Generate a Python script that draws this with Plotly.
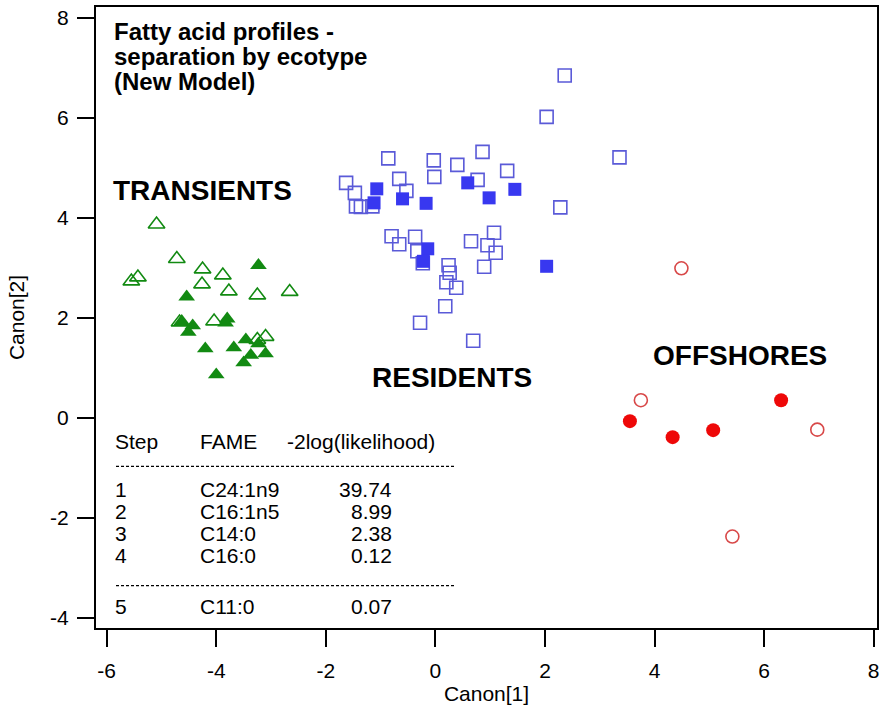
import plotly.graph_objects as go

# Canonical scores (Canon[1], Canon[2]) per ecotype
trans_open_x = [-5.09, -4.72, -5.55, -5.43, -4.25, -4.26, -3.88, -3.77, -3.25, -2.66, -4.67, -4.04, -3.25, -3.10]
trans_open_y = [3.87, 3.18, 2.73, 2.81, 2.97, 2.67, 2.85, 2.53, 2.45, 2.52, 1.91, 1.93, 1.56, 1.62]
trans_fill_x = [-3.23, -4.54, -4.63, -4.43, -4.51, -3.80, -3.83, -3.46, -4.20, -3.68, -3.23, -3.37, -3.10, -3.50, -4.00]
trans_fill_y = [3.05, 2.42, 1.93, 1.84, 1.71, 1.98, 1.90, 1.56, 1.38, 1.40, 1.48, 1.25, 1.28, 1.10, 0.86]

res_open_x = [2.36, 2.03, 0.86, -0.86, -0.03, 0.40, 1.31, -0.02, -0.66, -1.63, 0.77, -0.53, -1.47, -1.45,
              -1.36, -1.15, 2.28, -0.80, -0.66, -0.37, -0.33, 0.65, 1.07, 0.95, 1.10, 0.89, -0.23, 0.24,
              0.26, 0.20, 0.38, 0.18, -0.28, 0.69, 3.36]
res_open_y = [6.85, 6.02, 5.32, 5.19, 5.15, 5.06, 4.94, 4.82, 4.78, 4.70, 4.76, 4.54, 4.50, 4.23,
              4.22, 4.23, 4.21, 3.63, 3.47, 3.62, 3.33, 3.53, 3.70, 3.45, 3.30, 3.02, 3.09, 3.05,
              2.90, 2.71, 2.60, 2.23, 1.90, 1.54, 5.21]
res_fill_x = [-1.07, -1.12, -0.60, -0.17, 0.59, 0.98, 1.45, -0.14, -0.22, 2.03]
res_fill_y = [4.58, 4.30, 4.38, 4.29, 4.70, 4.40, 4.57, 3.38, 3.13, 3.03]

off_open_x = [4.49, 3.75, 6.97, 5.42]
off_open_y = [2.99, 0.35, -0.24, -2.38]
off_fill_x = [3.55, 4.33, 5.07, 6.31]
off_fill_y = [-0.07, -0.39, -0.25, 0.35]

# Stepwise selection table
steps = ["1", "2", "3", "4", "5"]
fames = ["C24:1n9", "C16:1n5", "C14:0", "C16:0", "C11:0"]
loglik = ["39.74", "8.99", "2.38", "0.12", "0.07"]

title_lines = ["Fatty acid profiles -", "separation by ecotype", "(New Model)"]

# Axis ticks (plain hyphen for negatives)
x_ticks = [-6, -4, -2, 0, 2, 4, 6, 8]
x_tick_text = ["-6", "-4", "-2", "0", "2", "4", "6", "8"]
y_ticks = [-4, -2, 0, 2, 4, 6, 8]
y_tick_text = ["-4", "-2", "0", "2", "4", "6", "8"]

FONT = "Liberation Sans, Arial, sans-serif"
GREEN = "#128a12"
BLUE_OPEN = "#5a5ad8"
BLUE_FILL = "#3838f0"
RED_OPEN = "#d84848"
RED_FILL = "#ee0808"

fig = go.Figure()

def add(x, y, symbol, color, size, lw=1.6):
    fig.add_trace(go.Scatter(
        x=x, y=y, mode="markers", hoverinfo="skip", showlegend=False,
        marker=dict(symbol=symbol, size=size, color=color,
                    line=dict(color=color, width=lw))))

add(trans_open_x, trans_open_y, "triangle-up-open", GREEN, 14.5)
add(trans_fill_x, trans_fill_y, "triangle-up", GREEN, 14.5, 0)
add(res_open_x, res_open_y, "square-open", BLUE_OPEN, 13)
add(res_fill_x, res_fill_y, "square", BLUE_FILL, 13, 0)
add(off_open_x, off_open_y, "circle-open", RED_OPEN, 13)
add(off_fill_x, off_fill_y, "circle", RED_FILL, 14, 0)

ann = []
# Group labels
for txt, x, y in [("TRANSIENTS", -4.26, 4.55), ("RESIDENTS", 0.30, 0.80), ("OFFSHORES", 5.56, 1.24)]:
    ann.append(dict(x=x, y=y, xref="x", yref="y", text="<b>%s</b>" % txt, showarrow=False,
                    font=dict(family=FONT, size=28, color="black")))

# Title block, one annotation per line for tight line spacing
for i, line in enumerate(title_lines):
    ann.append(dict(x=16 / 784, y=1, xref="paper", yref="paper", xanchor="left", yanchor="middle",
                    text="<b>%s</b>" % line, showarrow=False, yshift=-(24 + 25 * i),
                    font=dict(family=FONT, size=24, color="black")))

# Table
tx_step, tx_fame, tx_val, tx_head = -5.88, -4.325, -0.76, 0.03
head_y = -0.48
row_y = [-1.43, -1.88, -2.32, -2.76, -3.78]
tfont = dict(family=FONT, size=21, color="black")
ann.append(dict(x=tx_step, y=head_y, xref="x", yref="y", text="Step", xanchor="left", showarrow=False, font=tfont))
ann.append(dict(x=tx_fame, y=head_y, xref="x", yref="y", text="FAME", xanchor="left", showarrow=False, font=tfont))
ann.append(dict(x=tx_head, y=head_y, xref="x", yref="y", text="-2log(likelihood)", xanchor="right", showarrow=False, font=tfont))
for s, f, v, yy in zip(steps, fames, loglik, row_y):
    ann.append(dict(x=tx_step, y=yy, xref="x", yref="y", text=s, xanchor="left", showarrow=False, font=tfont))
    ann.append(dict(x=tx_fame, y=yy, xref="x", yref="y", text=f, xanchor="left", showarrow=False, font=tfont))
    ann.append(dict(x=tx_val, y=yy, xref="x", yref="y", text=v, xanchor="right", showarrow=False, font=tfont))

shapes = []
for yy in (-0.975, -3.36):
    shapes.append(dict(type="line", xref="x", yref="y", x0=-5.83, x1=0.375, y0=yy, y1=yy,
                       line=dict(color="black", width=1.2, dash="3px,2px")))

axis_common = dict(showgrid=False, zeroline=False, showline=True, mirror=True, linecolor="black",
                   linewidth=2, ticks="outside", ticklen=17, tickwidth=2, tickcolor="black",
                   tickfont=dict(family=FONT, size=21, color="black"))

fig.update_layout(
    width=883, height=710,
    margin=dict(l=96, r=3, t=7, b=82),
    paper_bgcolor="white", plot_bgcolor="white",
    xaxis=dict(range=[-6.195, 8.06], tickvals=x_ticks, ticktext=x_tick_text, ticklabelstandoff=6,
               title=dict(text="Canon[1]", font=dict(family=FONT, size=21, color="black"), standoff=5),
               **axis_common),
    yaxis=dict(range=[-4.21, 8.22], tickvals=y_ticks, ticktext=y_tick_text, ticklabelstandoff=4,
               title=dict(text="Canon[2]", font=dict(family=FONT, size=21, color="black"), standoff=20),
               **axis_common),
    annotations=ann, shapes=shapes,
)

fig.write_html("out.html")
